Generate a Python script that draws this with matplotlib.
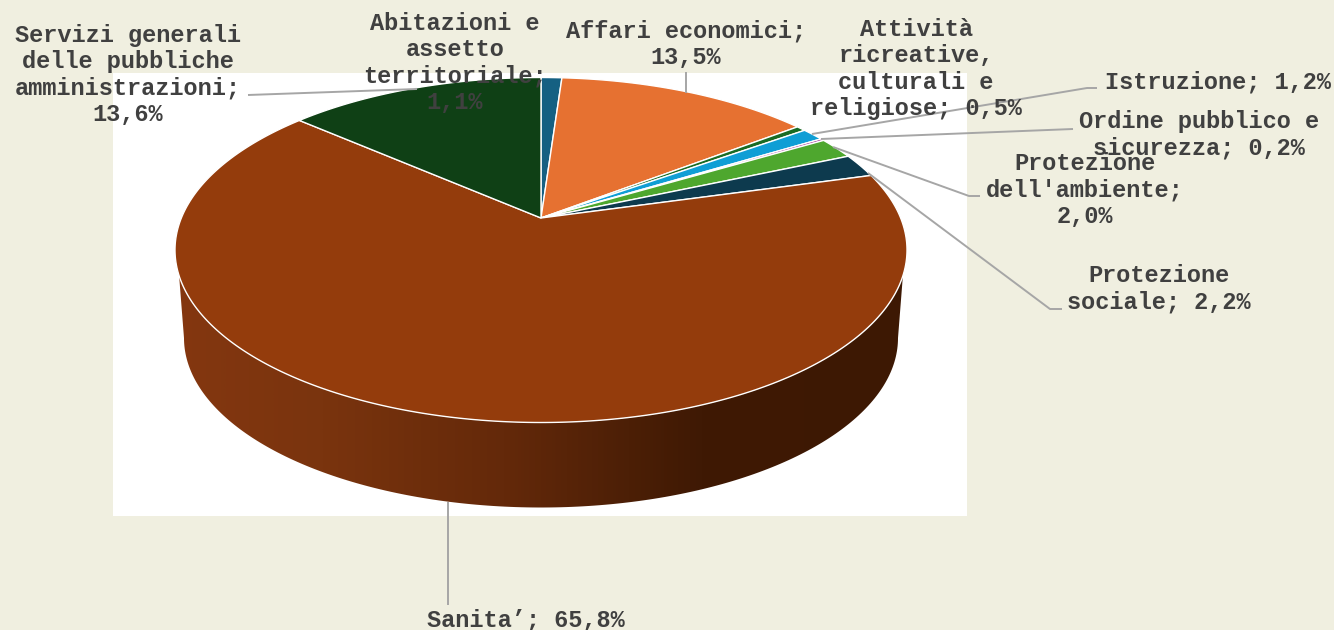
import matplotlib
matplotlib.use('Agg')
import matplotlib.pyplot as plt
import numpy as np
from matplotlib.colors import LinearSegmentedColormap
from matplotlib.patches import Polygon, Rectangle

values = [1.1, 13.5, 0.5, 1.2, 0.2, 2.0, 2.2, 65.8, 13.6]
labels = [
    "Abitazioni e\nassetto\nterritoriale;\n1,1%",
    "Affari economici;\n13,5%",
    "Attività\nricreative,\nculturali e\nreligiose; 0,5%",
    "Istruzione; 1,2%",
    "Ordine pubblico e\nsicurezza; 0,2%",
    "Protezione\ndell'ambiente;\n2,0%",
    "Protezione\nsociale; 2,2%",
    "Sanita’; 65,8%",
    "Servizi generali\ndelle pubbliche\namministrazioni;\n13,6%",
]
colors = ['#156082', '#e67131', '#196b24', '#0f9ed5', '#a02b93',
          '#4ea72e', '#0d3a4e', '#943c0c', '#0f4015']

label_pos = [(455, 63), (686, 44), (916, 69), (1218, 82), (1199, 135),
             (1085, 190), (1159, 289), (526, 620), (128, 75)]
leaders = [
    [(417, 89), (248, 95)],
    [(686, 93), (686, 72)],
    [(812, 134), (1087, 88), (1097, 88)],
    [(821, 139), (1073, 129)],
    [(833, 147), (969, 196), (980, 196)],
    [(868, 173), (1050, 309), (1062, 309)],
    [(448, 502), (448, 605)],
]

BG = '#f0efe0'
CX, CY = 541, 250
RX, RY = 366, 172.5
APEX_SHIFT = 32
DEPTH_CY, DEPTH_RX, DEPTH_RY = 338, 357, 169.5


def project(theta):
    # pie angle (clockwise from 12 o'clock) to pixels, with the tilt perspective
    u, v = np.sin(theta), np.cos(theta)
    c = APEX_SHIFT / RY
    d = 1 + c * v
    return CX + RX * np.sqrt(1 - c ** 2) * u / d, CY - (RY * v + APEX_SHIFT) / d


fig = plt.figure(figsize=(13.34, 6.30), dpi=100, facecolor=BG)
ax = fig.add_axes([0, 0, 1, 1])
ax.set_xlim(0, 1334)
ax.set_ylim(630, 0)
ax.axis('off')

ax.add_patch(Rectangle((113, 73), 854, 443, facecolor='white', edgecolor='none', zorder=1))

# side wall, horizontal shading clipped to the outline
t_top = np.linspace(0.15, np.pi - 0.15, 200)
t_bot = np.linspace(0, np.pi, 200)
wall = np.vstack([
    np.column_stack([CX - RX * np.cos(t_top), CY + RY * np.sin(t_top)]),
    np.column_stack([CX + DEPTH_RX * np.cos(t_bot), DEPTH_CY + DEPTH_RY * np.sin(t_bot)]),
])
wall_cmap = LinearSegmentedColormap.from_list(
    'wall', [(0, '#843710'), (0.2, '#7a340e'), (0.45, '#64290a'), (0.62, '#4c1f06'), (0.72, '#3f1904'), (1, '#3d1803')])
grad = ax.imshow(np.linspace(0, 1, 512)[None, :], cmap=wall_cmap, extent=(175, 907, 520, 240),
                 aspect='auto', zorder=2)
ax.set_xlim(0, 1334)
ax.set_ylim(630, 0)
clip = Polygon(wall, closed=True, transform=ax.transData, facecolor='none', edgecolor='none')
ax.add_patch(clip)
grad.set_clip_path(clip)

# top face
edges = np.cumsum([0] + values) / np.sum(values) * 2 * np.pi
apex_x, apex_y = CX, CY - APEX_SHIFT
for i in range(len(values)):
    th = np.linspace(edges[i], edges[i + 1], max(4, int(values[i] * 8)))
    xs, ys = project(th)
    ax.fill(np.r_[apex_x, xs], np.r_[apex_y, ys], facecolor=colors[i], edgecolor='white',
            linewidth=1.0, joinstyle='round', zorder=3)

for pts in leaders:
    pts = np.array(pts)
    ax.plot(pts[:, 0], pts[:, 1], color='#a6a6a6', lw=1.4, solid_capstyle='butt', zorder=4)

for text, (x, y) in zip(labels, label_pos):
    ax.text(x, y, text, ha='center', va='center', family='Liberation Mono', fontweight='bold',
            fontsize=17, color='#404040', linespacing=1.17, zorder=5)

fig.savefig('out.png', dpi=100, facecolor=BG)
